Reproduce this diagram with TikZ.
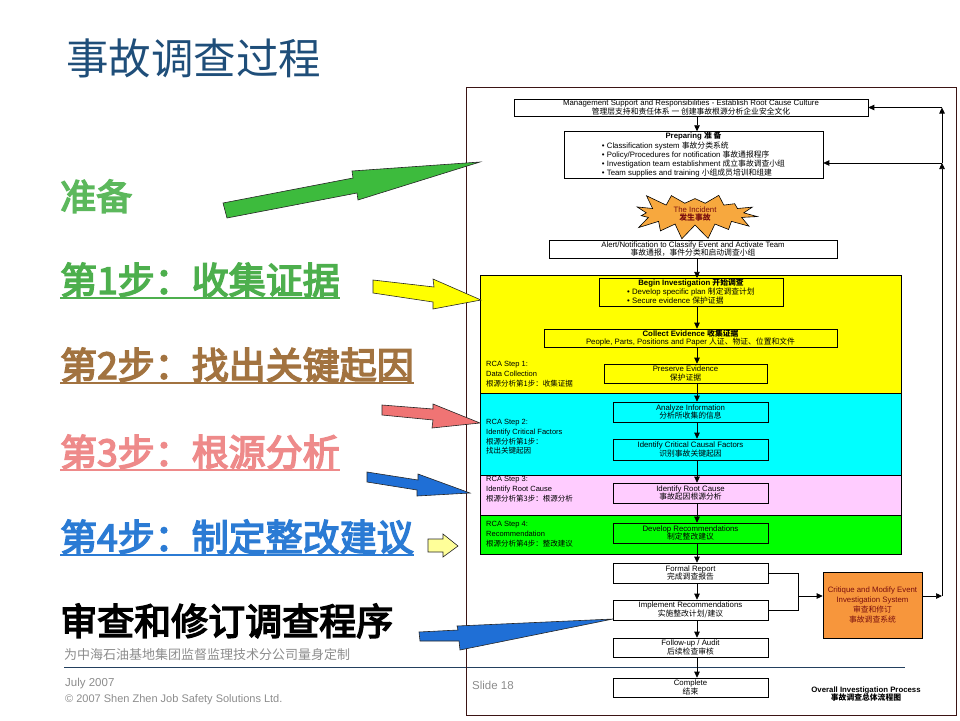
\documentclass[tikz,border=0pt]{standalone}
\usepackage{fontspec}
\setmainfont{Liberation Sans}
\newfontfamily\cjk{Noto Sans CJK SC}
\newfontfamily\cjkheavy[FakeBold=4]{Noto Sans CJK SC}
\usetikzlibrary{arrows.meta,shapes.symbols}
\newcommand{\zh}[1]{{\cjk #1}}
\newcommand{\fsz}[2]{\fontsize{#1}{#2}\selectfont}

\definecolor{titleblue}{HTML}{1F4E79}
\definecolor{prepgreen}{HTML}{5CB85C}
\definecolor{onegreen}{HTML}{4DAF4D}
\definecolor{twobrown}{HTML}{A27340}
\definecolor{threepink}{HTML}{EE8A8A}
\definecolor{fourblue}{HTML}{2B7BD4}
\definecolor{footgray}{HTML}{8C8C8C}
\definecolor{rulecol}{HTML}{23405E}
\definecolor{framecol}{HTML}{3B1414}
\definecolor{bandyellow}{HTML}{FFFF00}
\definecolor{bandcyan}{HTML}{00FFFF}
\definecolor{bandpink}{HTML}{FFCCFF}
\definecolor{bandgreen}{HTML}{00FF00}
\definecolor{critorange}{HTML}{F7963C}
\definecolor{starorange}{HTML}{F7A83E}
\definecolor{darkred}{HTML}{7A0E0E}
\definecolor{arrgreen}{HTML}{3DBB3D}
\definecolor{arrred}{HTML}{F07474}
\definecolor{arrblue}{HTML}{1F6FD6}
\definecolor{paleyellow}{HTML}{FFFF99}

\begin{document}
\begin{tikzpicture}[x=1pt,y=-1pt,
  stepbox/.style={draw,fill=white,line width=.6pt,inner sep=.5pt,align=center,font=\fsz{7.8}{8.4}},
  band/.style={draw,line width=.6pt},
  flow/.style={-{Triangle[length=6pt,width=5.5pt]},line width=.7pt},
  rcalabel/.style={anchor=north west,inner sep=0pt,align=left,font=\fsz{7.5}{9.8}},
  steplabel/.style={anchor=base west,inner sep=0pt,font=\cjkheavy\fsz{37}{40}},
  blockarrow/.style={draw=black!85,line width=.6pt}]
  \useasboundingbox (0,0) rectangle (960,720);

  % title and left column
  \node[anchor=base west,inner sep=0pt,text=titleblue,font=\cjk\fsz{42.5}{44}] (title) at (66,74) {事故调查过程};
  \node[steplabel,text=prepgreen,font=\cjkheavy\fsz{36}{40}] (prep-lbl) at (60,210) {准备};
  \node[steplabel,text=onegreen] (step1) at (60,294) {第1步：收集证据};
  \node[steplabel,text=twobrown] (step2) at (60,379) {第2步：找出关键起因};
  \node[steplabel,text=threepink] (step3) at (60,466) {第3步：根源分析};
  \node[steplabel,text=fourblue] (step4) at (60,551) {第4步：制定整改建议};
  \node[steplabel,text=black] (review) at (60,635) {审查和修订调查程序};
  \draw[onegreen,line width=1.8pt] ([yshift=-4pt]step1.base west) -- ([yshift=-4pt]step1.base east);
  \draw[twobrown,line width=1.8pt] ([yshift=-4pt]step2.base west) -- ([yshift=-4pt]step2.base east);
  \draw[threepink,line width=1.8pt] ([yshift=-4pt]step3.base west) -- ([yshift=-4pt]step3.base east);
  \draw[fourblue,line width=1.8pt] ([yshift=-4pt]step4.base west) -- ([yshift=-4pt]step4.base east);
  \node[anchor=west,inner sep=0pt,text=footgray,font=\cjk\fsz{13}{15}] (sub) at (64,655) {为中海石油基地集团监督监理技术分公司量身定制};
  \draw[rulecol,line width=.8pt] (64,667) -- (905,667);
  \node[anchor=west,inner sep=0pt,text=footgray,font=\fsz{11.5}{13}] (july) at (65,684) {July 2007};
  \node[anchor=west,inner sep=0pt,text=footgray,font=\fsz{11}{13}] (copy) at (65,700) {© 2007 Shen Zhen Job Safety Solutions Ltd.};
  \node[anchor=west,inner sep=0pt,text=footgray,font=\fsz{11.5}{13}] (slide) at (472,685) {Slide 18};

  % frame and bands
  \draw[framecol,line width=.8pt] (466,87) rectangle (956,715);
  \draw[band,fill=bandyellow] (480,275) rectangle (901,393);
  \draw[band,fill=bandcyan] (480,393) rectangle (901,475);
  \draw[band,fill=bandpink] (480,475) rectangle (901,515);
  \draw[band,fill=bandgreen] (480,515) rectangle (901,554);
  \node[rcalabel] (rca1) at (486,361) {RCA Step 1:\\Data Collection\\\zh{根源分析第1步：收集证据}};
  \node[rcalabel] (rca2) at (486,419) {RCA Step 2:\\Identify Critical Factors\\\zh{根源分析第1步：}\\\zh{找出关键起因}};
  \node[rcalabel] (rca3) at (486,476) {RCA Step 3:\\Identify Root Cause\\\zh{根源分析第3步：根源分析}};
  \node[rcalabel] (rca4) at (486,521) {RCA Step 4:\\Recommendation\\\zh{根源分析第4步：整改建议}};

  % flow boxes
  \node[stepbox,minimum width=354pt,minimum height=17pt] (mgmt) at (691,107.5) {Management Support and Responsibilities - Establish Root Cause Culture\\\zh{管理层支持和责任体系 一 创建事故根源分析企业安全文化}};
  \node[stepbox,minimum width=259pt,minimum height=44pt] (prep) at (693.5,155) {\textbf{Preparing \zh{准 备}}\\
    \begin{tabular}{@{}l@{}}
    • Classification system \zh{事故分类系统}\\
    • Policy/Procedures for notification \zh{事故通报程序}\\
    • Investigation team establishment \zh{成立事故调查小组}\\
    • Team supplies and training \zh{小组成员培训和组建}
    \end{tabular}};
  \node[starburst,draw,fill=starorange,line width=.6pt,starburst points=15,starburst point height=17pt,random starburst=23,
    minimum width=132pt,minimum height=56pt,inner sep=0pt,text=darkred,align=center,font=\fsz{7.8}{8.4}] (incident) at (695,214) {The Incident\\\zh{\bfseries 发生事故}};
  \node[stepbox,minimum width=288pt,minimum height=18pt] (alert) at (693,249) {Alert/Notification to Classify Event and Activate Team\\\zh{事故通报，事件分类和启动调查小组}};
  \node[stepbox,fill=bandyellow,minimum width=184pt,minimum height=27pt] (begin) at (691,292.5) {\textbf{Begin Investigation \zh{开始调查}}\\
    \begin{tabular}{@{}l@{}}
    • Develop specific plan \zh{制定调查计划}\\
    • Secure evidence \zh{保护证据}
    \end{tabular}};
  \node[stepbox,fill=bandyellow,minimum width=293pt,minimum height=18pt] (collect) at (690.5,338) {\textbf{Collect Evidence \zh{收集证据}}\\People, Parts, Positions and Paper \zh{人证、物证、位置和文件}};
  \node[stepbox,fill=bandyellow,minimum width=163pt,minimum height=19pt] (preserve) at (685.5,373.5) {Preserve Evidence\\\zh{保护证据}};
  \node[stepbox,fill=bandcyan,minimum width=155pt,minimum height=20pt] (analyze) at (690.5,412) {Analyze Information\\\zh{分析所收集的信息}};
  \node[stepbox,fill=bandcyan,minimum width=155pt,minimum height=21pt] (critical) at (690.5,449.5) {Identify Critical Causal Factors\\\zh{识别事故关键起因}};
  \node[stepbox,fill=bandpink,minimum width=155pt,minimum height=20pt] (rootcause) at (690.5,493) {Identify Root Cause\\\zh{事故起因根源分析}};
  \node[stepbox,fill=bandgreen,minimum width=155pt,minimum height=20pt] (develop) at (690.5,533) {Develop Recommendations\\\zh{制定整改建议}};
  \node[stepbox,minimum width=155pt,minimum height=20pt] (report) at (690.5,573) {Formal Report\\\zh{完成调查报告}};
  \node[stepbox,minimum width=155pt,minimum height=20pt] (implement) at (690.5,610) {Implement Recommendations\\\zh{实施整改计划/建议}};
  \node[stepbox,minimum width=155pt,minimum height=19pt] (follow) at (690.5,647.5) {Follow-up / Audit\\\zh{后续检查审核}};
  \node[stepbox,minimum width=155pt,minimum height=19pt] (complete) at (690.5,687.5) {Complete\\\zh{结束}};
  \node[stepbox,fill=critorange,text=darkred,minimum width=99pt,minimum height=66pt,font=\fsz{7.8}{10}] (critique) at (872.5,605) {Critique and Modify Event\\Investigation System\\\zh{审查和修订}\\\zh{事故调查系统}};
  \node[align=center,inner sep=0pt,font=\bfseries\fsz{7.8}{8.6}] (overall) at (866,694) {Overall Investigation Process\\\zh{事故调查总体流程图}};

  % main flow
  \coordinate (spine) at (697,0);
  \draw[flow] (mgmt.south -| spine) -- (prep.north -| spine);
  \draw[flow] (alert.south -| spine) -- (begin.north -| spine);
  \draw[flow] (begin.south -| spine) -- (collect.north -| spine);
  \draw[flow] (collect.south -| spine) -- (preserve.north -| spine);
  \draw[flow] (preserve.south -| spine) -- (analyze.north -| spine);
  \draw[flow] (analyze.south -| spine) -- (critical.north -| spine);
  \draw[flow] (critical.south -| spine) -- (rootcause.north -| spine);
  \draw[flow] (rootcause.south -| spine) -- (develop.north -| spine);
  \draw[flow] (develop.south -| spine) -- (report.north -| spine);
  \draw[flow] (report.south -| spine) -- (implement.north -| spine);
  \draw[flow] (implement.south -| spine) -- (follow.north -| spine);
  \draw[flow] (follow.south -| spine) -- (complete.north -| spine);

  % feedback loop
  \coordinate (merge) at (798,596);
  \coordinate (riser) at (942,596);
  \coordinate (tapprep) at (942,163);
  \draw[line width=.7pt] (report.east) -| (merge) |- (implement.east);
  \draw[flow] (merge) -- (merge -| critique.west);
  \draw[flow] (critique.east |- riser) -- (riser);
  \draw[flow] (riser) -- (tapprep);
  \draw[flow] (tapprep) -- (mgmt.east -| riser);
  \draw[flow] (tapprep) -- (tapprep -| prep.east);
  \draw[flow] (mgmt.east -| riser) -- (mgmt.east);

  % block arrows
  \filldraw[blockarrow,fill=arrgreen] (223,203) -- (353,178) -- (352,171) -- (480,162) -- (358,200) -- (357,193) -- (227,218) -- cycle;
  \filldraw[blockarrow,fill=bandyellow] (373,280) -- (434,287) -- (433,279) -- (481,300) -- (433,309) -- (433,302) -- (373,293) -- cycle;
  \filldraw[blockarrow,fill=arrred] (382,405) -- (433,409) -- (433,404) -- (480,423) -- (432,428) -- (433,420) -- (382,415) -- cycle;
  \filldraw[blockarrow,fill=arrblue] (367,472) -- (418,480) -- (418,474) -- (470,493) -- (417,496) -- (417,490) -- (367,482) -- cycle;
  \filldraw[blockarrow,fill=paleyellow] (428,539) -- (443,539) -- (443,534) -- (458,546) -- (443,557) -- (443,552) -- (428,552) -- cycle;
  \filldraw[blockarrow,fill=arrblue] (419,632) -- (458,630) -- (457,626) -- (613,619) -- (460,650) -- (459,641) -- (420,641) -- cycle;
\end{tikzpicture}
\end{document}
